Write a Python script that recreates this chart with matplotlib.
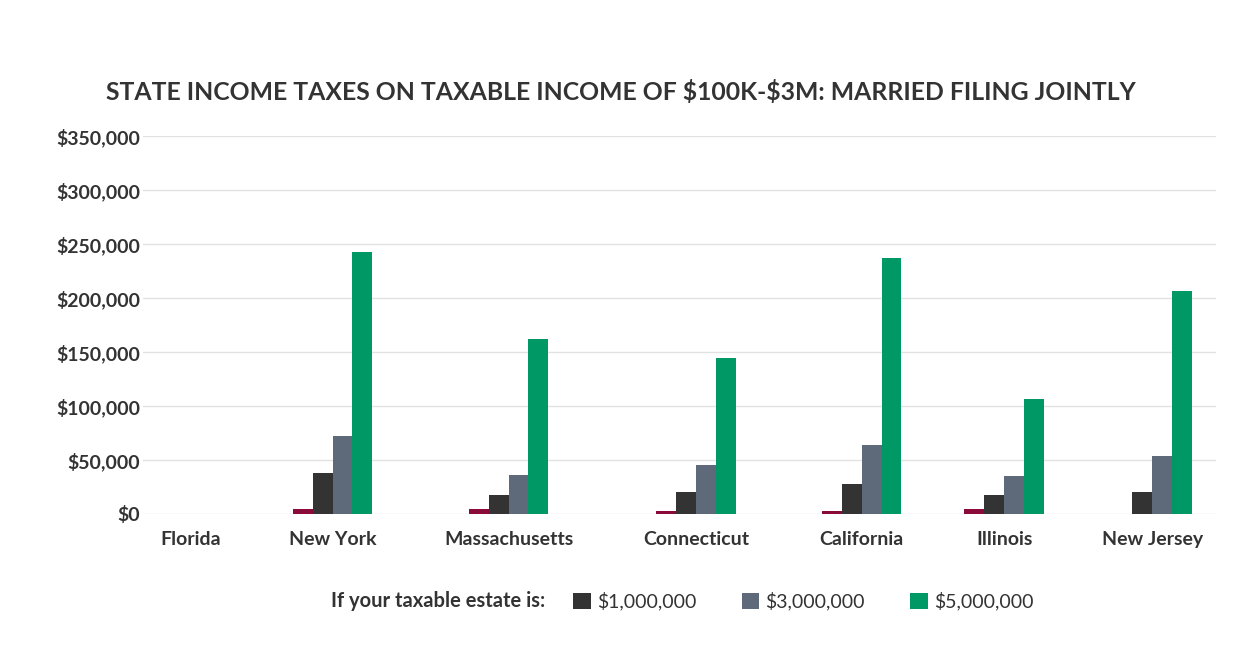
import matplotlib
matplotlib.use("Agg")
import matplotlib.pyplot as plt
from matplotlib.ticker import FuncFormatter

# data
states = ["Florida", "New York", "Massachusetts", "Connecticut", "California", "Illinois", "New Jersey"]
tax_100k = [0, 4600, 4600, 3000, 3000, 4900, 0]
tax_1m = [0, 37500, 17600, 20700, 28100, 17900, 20400]
tax_3m = [0, 72300, 36400, 45400, 64000, 35200, 53800]
tax_5m = [0, 243000, 162200, 144600, 237300, 106600, 206700]
legend_labels = [r"\$1,000,000", r"\$3,000,000", r"\$5,000,000"]
y_ticks = [0, 50000, 100000, 150000, 200000, 250000, 300000, 350000]

# layout: group centres in axes fraction (labels are spread with equal gaps)
centers = [0.0447, 0.1766, 0.3406, 0.5154, 0.6696, 0.8024, 0.9404]
bar_w = 0.0186

colors = ["#8a0b3a", "#333333", "#5e6a7a", "#009966"]
text_col = "#333333"
plt.rcParams["font.family"] = ["Lato", "DejaVu Sans"]

fig = plt.figure(figsize=(12.58, 6.69), dpi=100)
ax = fig.add_axes([0.1137, 0.2317, 0.853, 0.5650])

series = [tax_100k, tax_1m, tax_3m, tax_5m]
containers = []
for i, vals in enumerate(series):
    xs = [c + (i - 1.5) * bar_w for c in centers]
    b = ax.bar(xs, vals, width=bar_w, color=colors[i], linewidth=0, zorder=3)
    containers.append(b)

ax.set_xlim(0, 1)
ax.set_ylim(0, 350000)
ax.set_yticks(y_ticks)
ax.yaxis.set_major_formatter(FuncFormatter(lambda v, p: "${:,.0f}".format(v)))
ax.set_xticks(centers)
ax.set_xticklabels(states)
ax.grid(axis="y", color="#e2e2e2", linewidth=1, zorder=0)
ax.set_axisbelow(True)
for s in ax.spines.values():
    s.set_visible(False)
ax.tick_params(axis="both", length=0, labelsize=14, colors=text_col)
ax.tick_params(axis="y", pad=2)
ax.tick_params(axis="x", pad=12)
for lab in ax.get_xticklabels() + ax.get_yticklabels():
    lab.set_fontweight("bold")

fig.text(0.4935, 0.8625, r"STATE INCOME TAXES ON TAXABLE INCOME OF \$100K-\$3M: MARRIED FILING JOINTLY",
         ha="center", va="center", fontsize=17.8, fontweight="bold", color=text_col)

# legend
fig.text(0.3485, 0.1016, "If your taxable estate is:", ha="center", va="center",
         fontsize=14.5, fontweight="bold", color=text_col)
leg = fig.legend([c[0] for c in containers[1:]], legend_labels, ncol=3,
                 loc="center", bbox_to_anchor=(0.6385, 0.1016), frameon=False,
                 fontsize=14, handlelength=0.9, handleheight=0.9,
                 handletextpad=0.3, columnspacing=2.35)
for t in leg.get_texts():
    t.set_color(text_col)

fig.savefig("out.png", dpi=100)
